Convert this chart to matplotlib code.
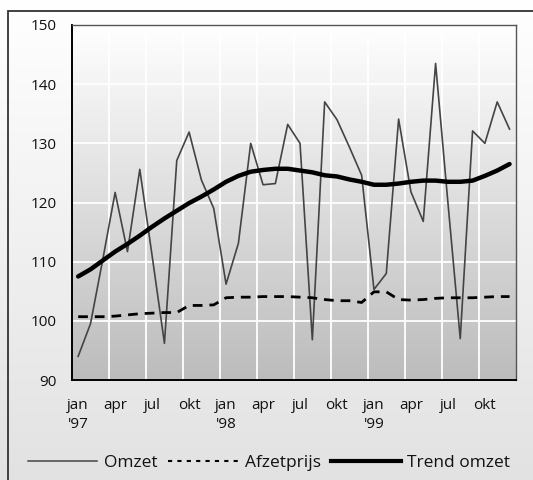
import numpy as np
import matplotlib
matplotlib.use("Agg")
import matplotlib.pyplot as plt
from matplotlib.lines import Line2D
from matplotlib.colors import LinearSegmentedColormap
from matplotlib.patches import Rectangle

plt.rcParams['font.family'] = ['Open Sans', 'DejaVu Sans']

# ---- data ----
months = ["jan", "feb", "mrt", "apr", "mei", "jun", "jul", "aug", "sep", "okt", "nov", "dec"] * 3
years = ["'97", "'98", "'99"]

omzet = [94.0, 99.5, 110.4, 121.7, 111.7, 125.6, 111.0, 96.2, 127.1, 131.9, 123.8, 119.0,
         106.2, 113.1, 130.0, 123.0, 123.2, 133.2, 130.0, 96.8, 137.0, 134.0, 129.4, 124.6,
         105.3, 108.0, 134.1, 121.8, 116.8, 143.5, 120.0, 97.0, 132.1, 130.0, 137.0, 132.4]

afzetprijs = [100.7, 100.7, 100.7, 100.8, 101.0, 101.2, 101.3, 101.4, 101.4, 102.6, 102.6, 102.7,
              103.9, 104.0, 104.0, 104.1, 104.1, 104.1, 104.0, 103.9, 103.6, 103.4, 103.4, 103.1,
              104.9, 104.9, 103.6, 103.5, 103.6, 103.8, 103.9, 103.9, 103.9, 104.0, 104.1, 104.1]

trend = [107.5, 108.7, 110.2, 111.7, 113.0, 114.4, 115.9, 117.3, 118.6, 119.9, 121.0, 122.2,
         123.5, 124.5, 125.2, 125.5, 125.7, 125.7, 125.4, 125.1, 124.6, 124.4, 123.9, 123.5,
         123.0, 123.0, 123.2, 123.5, 123.7, 123.7, 123.5, 123.5, 123.7, 124.5, 125.4, 126.5]

x = np.arange(len(omzet))

# ---- figure ----
fig = plt.figure(figsize=(5.33, 4.8), dpi=100)

# background gradient for whole figure
bg = fig.add_axes([0, 0, 1, 1], zorder=-5)
grad = np.linspace(0, 1, 256).reshape(-1, 1)
cm_bg = LinearSegmentedColormap.from_list("bg", ["#ffffff", "#e2e2e2"])
bg.imshow(grad, extent=[0, 1, 0, 1], aspect='auto', cmap=cm_bg, origin='upper')
bg.set_xlim(0, 1); bg.set_ylim(0, 1)
bg.axis('off')
bg.add_patch(Rectangle((7.5 / 533, -0.1), 1.2, 1 - 10.5 / 480 + 0.1, fill=False,
                       edgecolor='#333333', lw=1.3, transform=bg.transAxes))

ax = fig.add_axes([72 / 533, 1 - 380 / 480, (515.7 - 72) / 533, (380 - 25) / 480])
cm_ax = LinearSegmentedColormap.from_list("ax", ["#ffffff", "#bcbcbc"])
ax.imshow(grad, extent=[0, 1, 0, 1], aspect='auto', cmap=cm_ax, origin='upper',
          transform=ax.transAxes, zorder=0)

ax.set_xlim(-0.5, len(omzet) - 0.5)
ax.set_ylim(90, 150)

# gridlines
ax.set_yticks(np.arange(90, 151, 10))
ax.set_xticks(np.arange(0, len(omzet), 3))
ax.set_xticks(np.arange(2.5, len(omzet) - 1, 3), minor=True)
ax.grid(True, axis='y', which='major', color='white', lw=1.3, zorder=1)
ax.grid(True, axis='x', which='minor', color='white', lw=1.3, zorder=1)
ax.grid(False, axis='x', which='major')

labels = []
for i in range(0, len(omzet), 3):
    lab = months[i]
    if i % 12 == 0:
        lab = lab + "\n" + years[i // 12]
    labels.append(lab)
ax.set_xticklabels(labels, fontsize=11, linespacing=1.4, va='top', ha='center', color='#111111')
ax.set_yticklabels([str(v) for v in range(90, 151, 10)], fontsize=11, color='#111111')
ax.tick_params(axis='both', which='both', length=0)
ax.tick_params(axis='y', pad=11)
ax.tick_params(axis='x', pad=13)

# lines
ax.plot(x, omzet, color='#444444', lw=1.2, zorder=3)
ax.plot(x, afzetprijs, color='black', lw=2.0, ls=(0, (3.5, 2.5)), zorder=4)
ax.plot(x, trend, color='black', lw=3.2, zorder=5, solid_capstyle='round')

for side in ['left', 'bottom']:
    ax.spines[side].set_color('black')
    ax.spines[side].set_linewidth(1.4)
for side in ['top', 'right']:
    ax.spines[side].set_color('#555555')
    ax.spines[side].set_linewidth(1.0)
for s in ax.spines.values():
    s.set_zorder(6)

handles = [Line2D([], [], color='#444444', lw=1.1),
           Line2D([], [], color='black', lw=1.5, ls=(0, (2, 2.5))),
           Line2D([], [], color='black', lw=3.0)]
fig.legend(handles, ["Omzet", "Afzetprijs", "Trend omzet"], loc='center',
           bbox_to_anchor=(0.505, 1 - 463 / 480), ncol=3, frameon=False,
           fontsize=12.5, handlelength=4.0, handletextpad=0.4, columnspacing=0.6,
           labelcolor='#111111')

fig.savefig("out.png", dpi=100)
